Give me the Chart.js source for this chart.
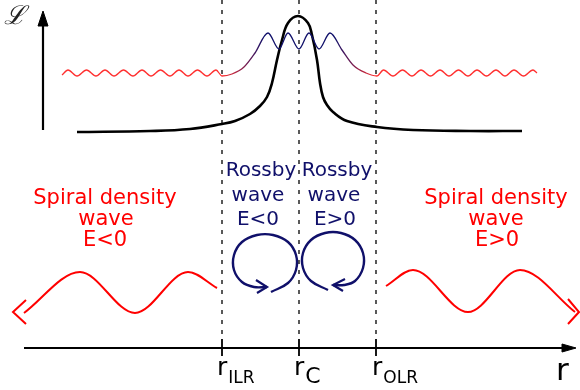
<!DOCTYPE html>
<html>
<head>
<meta charset="utf-8">
<script src="https://cdn.jsdelivr.net/npm/chart.js@4.4.0/dist/chart.umd.min.js"></script>
<style>
  html, body { margin: 0; padding: 0; background: #fff; }
  #wrap { width: 580px; height: 390px; position: relative; }
</style>
</head>
<body>
<div id="wrap"><canvas id="diagram"></canvas></div>
<script>
/* Corotation / Lindblad resonance sketch, drawn on a plain scatter chart */

const RED = "#ff0000";
const NAVY = "#10106a";
const INK = "#000";

// resonance radii: r_ILR, r_c, r_OLR
const resonances = [222, 299, 376];

// potential-vorticity profile (black bump at corotation)
const profileR = [77, 150, 190, 222, 235, 250, 260, 267, 272, 277, 282, 288, 298, 308, 312, 317, 320, 323, 327, 333, 347, 377, 413, 470, 522];
const profileL = [132, 131, 129, 124, 121, 114, 106, 97, 83, 60, 40, 23, 16, 23, 35, 60, 83, 97, 105, 112, 121, 127, 130, 131, 131];

// wavy perturbation drawn above the profile
const rippleR = [62, 68, 77, 86.5, 96, 105, 114, 123.5, 133, 142, 151, 160.5, 170, 179, 188, 197.5, 207, 216, 222,
  232, 244, 255, 268, 279, 288, 299, 309, 319, 330, 342, 353, 366, 377,
  383.5, 393, 402.5, 412, 421, 430.5, 440, 449, 458.5, 468, 477, 486.5, 496, 505, 514, 523.5, 533, 537];
const rippleL = [75, 70, 76, 70, 76, 70, 76, 70, 76, 70, 76, 70, 76, 70, 76, 70, 76, 70, 76,
  74, 67, 53, 33, 49, 33, 49, 33, 49, 33, 50, 65, 73, 76,
  70, 76, 70, 76, 70, 76, 70, 76, 70, 76, 70, 76, 70, 76, 70, 76, 70, 73];

// spiral density waves (bottom, red)
const spiralInR = [24, 80, 135, 188, 217];
const spiralInY = [313, 272, 313, 272, 288];
const spiralOutR = [386, 413, 468, 520, 575];
const spiralOutY = [286, 270, 312, 270, 312];
const spiralInHeadR = [26, 13, 26];
const spiralInHeadY = [300, 312, 324];
const spiralOutHeadR = [568, 579, 568];
const spiralOutHeadY = [299, 312, 324];

// Rossby vortices (navy loops)
const vortexInR = [271, 288, 296, 296, 288, 273, 257, 242, 234, 234, 242, 254, 267];
const vortexInY = [292, 283, 270, 255, 242, 235, 235, 242, 255, 270, 282, 287, 287];
const vortexOutR = [328, 311, 303, 303, 311, 325, 341, 355, 363, 363, 355, 344, 333];
const vortexOutY = [290, 281, 268, 253, 240, 233, 233, 240, 253, 268, 281, 285, 285];
const vortexInHeadR = [256, 267, 257];
const vortexInHeadY = [280, 287, 293];
const vortexOutHeadR = [345, 333, 343];
const vortexOutHeadY = [279, 285, 291];

// axes of the sketch
const radialAxisR = [24, 566];
const radialHeadR = [562, 576, 562, 562];
const radialHeadY = [344, 348, 352, 344];
const levelAxisY = [130, 22];
const levelHeadR = [38, 43, 48, 38];
const levelHeadY = [26, 11, 26, 26];

const SANS = '"DejaVu Sans", "Liberation Sans", sans-serif';
const textLabels = [
  { text: "\u2112", r: 15, v: 24, color: "#222", font: 'italic 26px "DejaVu Serif", serif' },
  { text: "Spiral density", r: 105, v: 204, color: RED, font: "21px " + SANS },
  { text: "wave", r: 106, v: 225, color: RED, font: "21px " + SANS },
  { text: "E<0", r: 105, v: 246, color: RED, font: "21px " + SANS },
  { text: "Spiral density", r: 496, v: 204, color: RED, font: "21px " + SANS },
  { text: "wave", r: 496, v: 225, color: RED, font: "21px " + SANS },
  { text: "E>0", r: 497, v: 246, color: RED, font: "21px " + SANS },
  { text: "Rossby", r: 261, v: 176, color: NAVY, font: "20px " + SANS },
  { text: "wave", r: 258, v: 201, color: NAVY, font: "20px " + SANS },
  { text: "E<0", r: 258, v: 225, color: NAVY, font: "20px " + SANS },
  { text: "Rossby", r: 337, v: 176, color: NAVY, font: "20px " + SANS },
  { text: "wave", r: 334, v: 201, color: NAVY, font: "20px " + SANS },
  { text: "E>0", r: 335, v: 225, color: NAVY, font: "20px " + SANS },
  { text: "r", sub: "ILR", r: 217, v: 375, align: "left", color: INK, font: "25px " + SANS, subFont: "17px " + SANS },
  { text: "r", sub: "C", r: 294, v: 375, align: "left", color: INK, font: "25px " + SANS, subFont: "22px " + SANS },
  { text: "r", sub: "OLR", r: 372, v: 375, align: "left", color: INK, font: "25px " + SANS, subFont: "17px " + SANS },
  { text: "r", r: 556, v: 380, align: "left", color: INK, font: "31px " + SANS }
];

function pts(xs, ys) {
  return xs.map(function (x, i) { return { x: x, y: ys[i] }; });
}

function line(data, color, width, extra) {
  return Object.assign({
    data: data,
    showLine: true,
    borderColor: color,
    backgroundColor: color,
    borderWidth: width,
    pointRadius: 0,
    fill: false,
    tension: 0
  }, extra || {});
}

function rippleColor(context) {
  const chart = context.chart;
  if (!chart.chartArea) return RED;
  const xs = chart.scales.x;
  const x0 = xs.getPixelForValue(0), x1 = xs.getPixelForValue(580);
  const at = function (v) { return (xs.getPixelForValue(v) - x0) / (x1 - x0); };
  const g = chart.ctx.createLinearGradient(x0, 0, x1, 0);
  g.addColorStop(0, "#ff3030");
  g.addColorStop(at(resonances[0]), "#ff3030");
  g.addColorStop(at(264), NAVY);
  g.addColorStop(at(335), NAVY);
  g.addColorStop(at(resonances[2]), "#ff3030");
  g.addColorStop(1, "#ff3030");
  return g;
}

const datasets = [];

resonances.forEach(function (r) {
  datasets.push(line([{ x: r, y: 0 }, { x: r, y: 340 }], INK, 1.3, { borderDash: [4, 6] }));
  datasets.push(line([{ x: r, y: 339 }, { x: r, y: 356 }], INK, 1.8));
});

datasets.push(line(pts(radialAxisR, [348, 348]), INK, 1.8));
datasets.push(line(pts(radialHeadR, radialHeadY), INK, 1, { fill: "shape" }));
datasets.push(line(pts([43, 43], levelAxisY), INK, 2.2));
datasets.push(line(pts(levelHeadR, levelHeadY), INK, 1, { fill: "shape" }));

datasets.push(line(pts(rippleR, rippleL), rippleColor, 1.3, { cubicInterpolationMode: "monotone" }));
datasets.push(line(pts(profileR, profileL), INK, 2.6, { tension: 0.4 }));

datasets.push(line(pts(spiralInR, spiralInY), RED, 2, { cubicInterpolationMode: "monotone" }));
datasets.push(line(pts(spiralOutR, spiralOutY), RED, 2, { cubicInterpolationMode: "monotone" }));
datasets.push(line(pts(spiralInHeadR, spiralInHeadY), RED, 2));
datasets.push(line(pts(spiralOutHeadR, spiralOutHeadY), RED, 2));

datasets.push(line(pts(vortexInR, vortexInY), NAVY, 2.4, { tension: 0.4 }));
datasets.push(line(pts(vortexOutR, vortexOutY), NAVY, 2.4, { tension: 0.4 }));
datasets.push(line(pts(vortexInHeadR, vortexInHeadY), NAVY, 2.2));
datasets.push(line(pts(vortexOutHeadR, vortexOutHeadY), NAVY, 2.2));

const labelPlugin = {
  id: "sketchLabels",
  afterDatasetsDraw: function (chart) {
    const ctx = chart.ctx;
    const xs = chart.scales.x, ys = chart.scales.y;
    ctx.save();
    ctx.textBaseline = "alphabetic";
    textLabels.forEach(function (l) {
      const px = xs.getPixelForValue(l.r), py = ys.getPixelForValue(l.v);
      ctx.font = l.font;
      ctx.fillStyle = l.color;
      ctx.textAlign = l.align || "center";
      ctx.fillText(l.text, px, py);
      if (l.sub) {
        const w = ctx.measureText(l.text).width;
        ctx.font = l.subFont;
        ctx.textAlign = "left";
        ctx.fillText(l.sub, px + w + 1, py + 8);
      }
    });
    ctx.restore();
  }
};

new Chart(document.getElementById("diagram"), {
  type: "scatter",
  data: { datasets: datasets },
  options: {
    responsive: true,
    maintainAspectRatio: false,
    animation: false,
    events: [],
    layout: { padding: 0 },
    plugins: { legend: { display: false }, tooltip: { enabled: false } },
    scales: {
      x: { type: "linear", min: 0, max: 580, display: false },
      y: { type: "linear", min: 0, max: 390, reverse: true, display: false }
    }
  },
  plugins: [labelPlugin]
});
</script>
</body>
</html>
